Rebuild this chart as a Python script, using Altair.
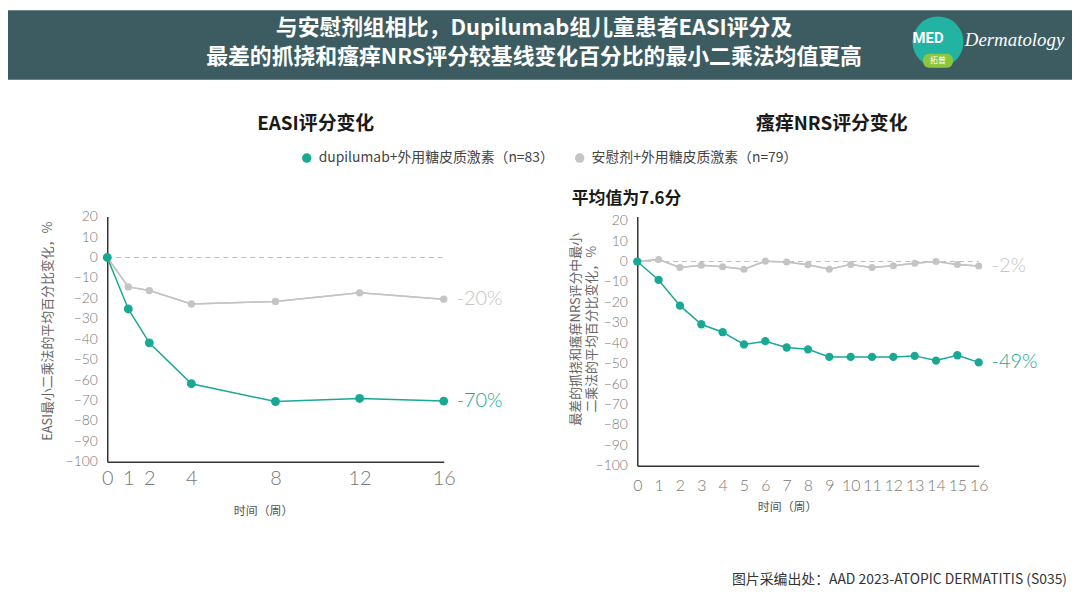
import altair as alt
import pandas as pd

# ---------------- data ----------------
easi_weeks = [0, 1, 2, 4, 8, 12, 16]
easi_dupilumab = [0, -25.2, -41.8, -61.8, -70.5, -69.0, -70.3]
easi_placebo = [0, -14.4, -16.2, -22.8, -21.5, -17.3, -20.4]

nrs_weeks = [0, 1, 2, 3, 4, 5, 6, 7, 8, 9, 10, 11, 12, 13, 14, 15, 16]
nrs_dupilumab = [0, -9.0, -21.6, -30.7, -34.6, -40.6, -39.0, -42.1, -43.0, -46.7,
                 -46.7, -46.7, -46.7, -46.2, -48.5, -45.9, -49.4]
nrs_placebo = [0, 1.0, -2.9, -1.8, -2.6, -3.8, 0.2, -0.2, -1.6, -3.8,
               -1.4, -2.9, -2.1, -0.8, 0.0, -1.4, -2.2]

groups = ["dupilumab+外用糖皮质激素（n=83）", "安慰剂+外用糖皮质激素（n=79）"]
group_colors = ["#19a893", "#c4c4c4"]
easi_end_labels = ["-70%", "-20%"]
nrs_end_labels = ["-49%", "-2%"]
y_ticks = list(range(-100, 21, 10))
zero_line_weeks = [0, 16]
zero_line_values = [0, 0]

header_lines = ["与安慰剂组相比，Dupilumab组儿童患者EASI评分及",
                "最差的抓挠和瘙痒NRS评分较基线变化百分比的最小二乘法均值更高"]
panel_titles = ["EASI评分变化", "瘙痒NRS评分变化"]
nrs_subtitle = "平均值为7.6分"
easi_y_title = "EASI最小二乘法的平均百分比变化，%"
nrs_y_title = ["最差的抓挠和瘙痒NRS评分中最小", "二乘法的平均百分比变化，%"]
x_title = "时间（周）"
source_note = "图片采编出处：AAD 2023-ATOPIC DERMATITIS (S035)"

CJK = "Noto Sans CJK SC"
NUM = "Lato"
color_scale = alt.Scale(domain=groups, range=group_colors)
one = pd.DataFrame({"k": [0]})
zero_df = pd.DataFrame({"week": zero_line_weeks, "value": zero_line_values})


def long_df(weeks, dupi, pbo):
    rows = [{"week": w, "value": v, "group": groups[1]} for w, v in zip(weeks, pbo)]
    rows += [{"week": w, "value": v, "group": groups[0]} for w, v in zip(weeks, dupi)]
    return pd.DataFrame(rows)


def end_df(weeks, dupi, pbo, labels):
    return pd.DataFrame({
        "week": [weeks[-1], weeks[-1]],
        "value": [dupi[-1], pbo[-1]],
        "group": groups,
        "label": labels,
    })


def panel(df, ends, x_ticks, ydomain, y_title, x_lab_size, x_lab_pad,
          x_title_xy, y_title_xy, sizes, legend, extra_layers):
    x = alt.X("week:Q",
              scale=alt.Scale(domain=[0, 16], nice=False, zero=False),
              axis=alt.Axis(values=x_ticks, grid=False, ticks=False,
                            domainColor="#333", domainWidth=1.5,
                            labelFont=NUM, labelFontWeight=300,
                            labelFontSize=x_lab_size, labelColor="#777",
                            labelPadding=x_lab_pad, labelFlush=False,
                            labelOverlap=False,
                            title=x_title, titleFont=CJK, titleFontSize=12,
                            titleFontWeight="normal", titleColor="#555",
                            titleX=x_title_xy[0], titleY=x_title_xy[1],
                            titleBaseline="middle", titleAlign="center"))
    y = alt.Y("value:Q",
              scale=alt.Scale(domain=ydomain, nice=False, zero=False),
              axis=alt.Axis(values=y_ticks, grid=False, ticks=False,
                            domainColor="#333", domainWidth=1.5,
                            labelFont=NUM, labelFontWeight=300,
                            labelFontSize=14, labelColor="#777",
                            labelPadding=10, labelFlush=False,
                            labelOverlap=False,
                            title=y_title, titleFont=CJK, titleFontSize=13,
                            titleFontWeight="normal", titleColor="#666",
                            titleLineHeight=16,
                            titleX=y_title_xy[0], titleY=y_title_xy[1],
                            titleAngle=270,
                            titleBaseline="middle", titleAlign="center"))

    layers = []
    for g, c in zip([groups[1], groups[0]], [group_colors[1], group_colors[0]]):
        layers.append(
            alt.Chart(df).transform_filter(alt.datum.group == g)
            .mark_line(strokeWidth=1.5, color=c)
            .encode(x=x, y=y, order="week:Q")
        )
    zero_rule = alt.Chart(zero_df).mark_line(
        color="#bdbdbd", strokeDash=[5, 4], strokeWidth=1
    ).encode(x=x, y=y)
    pts = []
    for g, s in zip([groups[1], groups[0]], [sizes[1], sizes[0]]):
        pts.append(
            alt.Chart(df).transform_filter(alt.datum.group == g)
            .mark_point(filled=True, opacity=1, size=s)
            .encode(x=x, y=y,
                    color=alt.Color("group:N", scale=color_scale, legend=legend))
        )
    labels = []
    for i, c in enumerate(group_colors):
        labels.append(
            alt.Chart(ends).transform_filter(alt.datum.group == groups[i])
            .mark_text(align="left", baseline="middle", dx=13, fontSize=20,
                       font=NUM, fontWeight=300, color=c)
            .encode(x=x, y=y, text="label:N")
        )
    return alt.layer(layers[0], *extra_layers, zero_rule, layers[0], layers[1],
                     *pts, *labels)


def txt(s, x, y, size, color, weight="normal", align="center", font=CJK,
        style="normal", baseline="middle"):
    return alt.Chart(one).mark_text(
        text=s, fontSize=size, color=color, fontWeight=weight, align=align,
        baseline=baseline, font=font, fontStyle=style
    ).encode(x=alt.value(x), y=alt.value(y))


# decorative / text layers, positioned relative to the left plot origin
header_rect = alt.Chart(one).mark_rect(color="#3d5c61").encode(
    x=alt.value(-100), x2=alt.value(972), y=alt.value(-208), y2=alt.value(-138))
logo_circle = alt.Chart(one).mark_point(
    filled=True, opacity=1, size=2640, color="#22b3a3", shape="circle"
).encode(x=alt.value(837), y=alt.value(-176))
logo_band = alt.Chart(one).mark_rect(color="#8cc63e", cornerRadius=6).encode(
    x=alt.value(822), x2=alt.value(852), y=alt.value(-164), y2=alt.value(-150))

extras = [
    header_rect,
    txt(header_lines[0], 430, -190, 22, "white", "bold"),
    txt(header_lines[1], 430, -161, 22, "white", "bold"),
    logo_circle,
    logo_band,
    txt("MED", 827, -180, 15, "white", "bold", font="Roboto"),
    txt("拓普", 837, -157, 8, "white"),
    txt("Dermatology", 864, -178, 19, "white", align="left",
        font="Liberation Serif", style="italic"),
    txt(panel_titles[0], 210, -93, 19, "#1a1a1a", "bold"),
    txt(panel_titles[1], 730, -93, 19, "#1a1a1a", "bold"),
    txt(nrs_subtitle, 468, -18, 17, "#1a1a1a", "bold", align="left"),
    txt(source_note, 967, 366, 14, "#333", align="right"),
]

legend = alt.Legend(
    orient="none", legendX=194, legendY=-66, direction="horizontal",
    title=None, symbolType="circle", symbolSize=90, symbolStrokeWidth=0,
    labelFont=CJK, labelFontSize=14, labelColor="#444", labelLimit=400,
    columnPadding=18, labelOffset=5,
)

easi_df = long_df(easi_weeks, easi_dupilumab, easi_placebo)
nrs_df = long_df(nrs_weeks, nrs_dupilumab, nrs_placebo)

left = panel(
    easi_df, end_df(easi_weeks, easi_dupilumab, easi_placebo, easi_end_labels),
    easi_weeks, [-100, 20], easi_y_title, 20, 7, (157, 49), (-60, 115),
    (80, 55), legend, extras
).properties(width=339, height=247)

right = panel(
    nrs_df, end_df(nrs_weeks, nrs_dupilumab, nrs_placebo, nrs_end_labels),
    nrs_weeks, [-100, 22], nrs_y_title, 16, 12, (151, 41), (-62, 113),
    (70, 50), legend, []
).properties(width=344, height=251)

chart = alt.hconcat(left, right, spacing=195, bounds="flush").configure_view(
    stroke=None
).properties(padding=0, background="white")

chart.save("out.html", embed_options={"renderer": "svg", "actions": False})
